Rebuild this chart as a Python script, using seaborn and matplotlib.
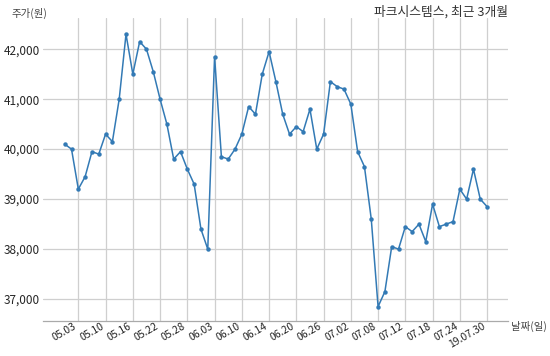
import matplotlib
matplotlib.use('Agg')
import matplotlib.pyplot as plt
import seaborn as sns
import pandas as pd
from matplotlib.ticker import FuncFormatter

# 파크시스템스 최근 3개월 종가
dates = ['19.04.30', '19.05.02', '19.05.03', '19.05.07', '19.05.08', '19.05.09', '19.05.10',
         '19.05.13', '19.05.14', '19.05.15', '19.05.16', '19.05.17', '19.05.20', '19.05.21',
         '19.05.22', '19.05.23', '19.05.24', '19.05.27', '19.05.28', '19.05.29', '19.05.30',
         '19.05.31', '19.06.03', '19.06.04', '19.06.05', '19.06.07', '19.06.10', '19.06.11',
         '19.06.12', '19.06.13', '19.06.14', '19.06.17', '19.06.18', '19.06.19', '19.06.20',
         '19.06.21', '19.06.24', '19.06.25', '19.06.26', '19.06.27', '19.06.28', '19.07.01',
         '19.07.02', '19.07.03', '19.07.04', '19.07.05', '19.07.08', '19.07.09', '19.07.10',
         '19.07.11', '19.07.12', '19.07.15', '19.07.16', '19.07.17', '19.07.18', '19.07.19',
         '19.07.22', '19.07.23', '19.07.24', '19.07.25', '19.07.26', '19.07.29', '19.07.30']
prices = [40100, 40000, 39200, 39450, 39950, 39900, 40300, 40150, 41000, 42300,
          41500, 42150, 42000, 41550, 41000, 40500, 39800, 39950, 39600, 39300,
          38400, 38000, 41850, 39850, 39800, 40000, 40300, 40850, 40700, 41500,
          41950, 41350, 40700, 40300, 40450, 40350, 40800, 40000, 40300, 41350,
          41250, 41200, 40900, 39950, 39650, 38600, 36850, 37150, 38050, 38000,
          38450, 38350, 38500, 38150, 38900, 38450, 38500, 38550, 39200, 39000,
          39600, 39000, 38850]

df = pd.DataFrame({'date': dates, 'price': prices})
df['pos'] = range(len(df))

sns.set_style('whitegrid')
plt.rcParams['font.family'] = ['Noto Sans CJK KR', 'DejaVu Sans']

fig = plt.figure(figsize=(5.5, 3.56), dpi=100)
ax = fig.add_axes([0.078, 0.098, 0.846, 0.851])

sns.lineplot(data=df, x='pos', y='price', ax=ax, color='#337ab5', linewidth=1.1,
             marker='o', markersize=3.2, markeredgewidth=0)

# 눈금: 4 거래일마다, 마지막은 연도 포함
tick_pos = list(range(2, len(dates), 4))
tick_lab = [dates[i][3:] for i in tick_pos]
tick_lab[-1] = dates[tick_pos[-1]]
ax.set_xticks(tick_pos)
ax.set_xticklabels(tick_lab, rotation=30, ha='right', fontsize=7.5)
ax.set_yticks([37000, 38000, 39000, 40000, 41000, 42000])
ax.yaxis.set_major_formatter(FuncFormatter(lambda v, p: f'{int(v):,}'))
ax.tick_params(axis='y', labelsize=8.5, pad=2, length=0)
ax.tick_params(axis='x', pad=0, length=0)
ax.set_xlim(-3.2, 65.1)
ax.set_ylim(36560, 42620)

ax.grid(True, color='#cfcfcf', linewidth=0.9)
for s in ['top', 'right', 'left']:
    ax.spines[s].set_visible(False)
ax.spines['bottom'].set_color('#aaaaaa')
ax.spines['bottom'].set_linewidth(0.9)
ax.set_xlabel('')
ax.set_ylabel('')

fig.text(0.02, 0.962, '주가(원)', fontsize=7.5, color='#444444', ha='left', va='center')
fig.text(0.924, 0.965, '파크시스템스, 최근 3개월', fontsize=9.2, color='#333333',
         ha='right', va='center')
fig.text(0.93, 0.082, '날짜(일)', fontsize=7.5, color='#444444', ha='left', va='center')

fig.savefig('out.png', dpi=100)
